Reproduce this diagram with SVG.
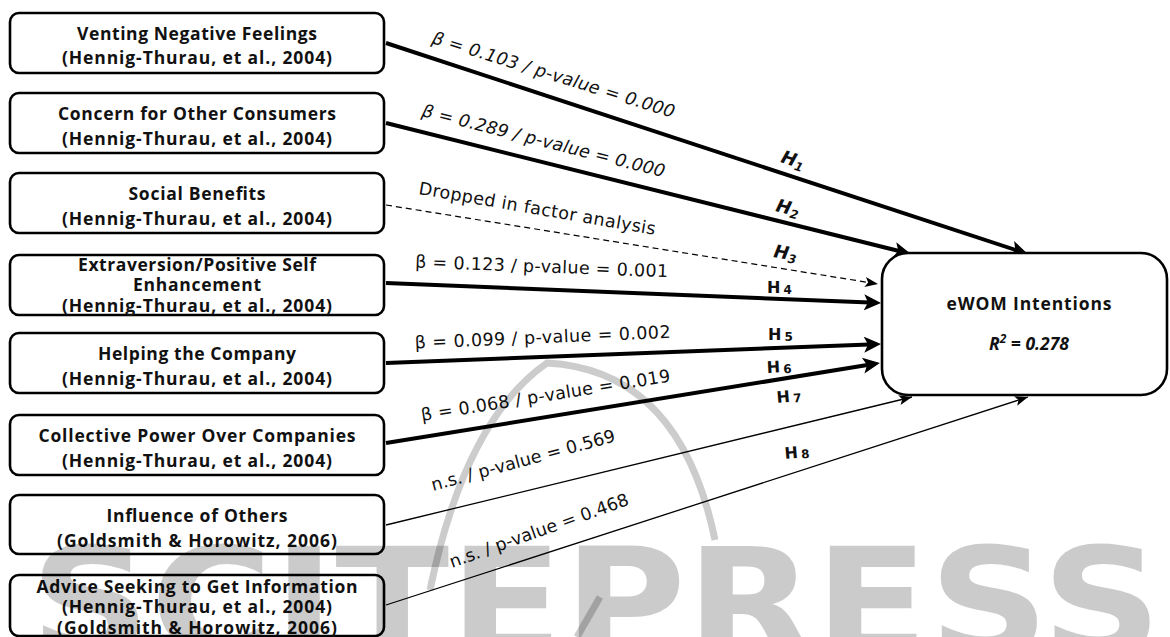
<svg xmlns="http://www.w3.org/2000/svg" width="1170" height="637" viewBox="0 0 1170 637">
<style>
.box{fill:#fff;stroke:#000;stroke-width:2.6}
.bt{font-family:"Open Sans","Liberation Sans",sans-serif;font-weight:bold;font-size:17.5px;fill:#111;text-anchor:middle}
.lbl{font-family:"DejaVu Sans",sans-serif;font-size:17.5px;fill:#111}
.it{font-style:italic}
.thick{stroke:#000;stroke-width:4;fill:none;marker-end:url(#ah)}
.thin{stroke:#000;stroke-width:1.3;fill:none;marker-end:url(#ahs)}
.dash{stroke:#000;stroke-width:1.2;fill:none;stroke-dasharray:6 4;marker-end:url(#ahs)}
.hi{font-family:"DejaVu Sans",sans-serif;font-weight:bold;font-style:italic;font-size:18px;fill:#111}
.hn{font-family:"DejaVu Sans",sans-serif;font-weight:bold;font-size:16px;fill:#111}
.sub{font-size:12px}
.wm{fill:#000;opacity:0.2}
.wml{stroke:#000;opacity:0.2;fill:none;stroke-width:7}
</style>
<defs>
<marker id="ah" markerUnits="userSpaceOnUse" markerWidth="18" markerHeight="17" refX="12" refY="8" orient="auto"><path d="M0,0 L17,8 L0,16 L4,8 z" fill="#000"/></marker>
<marker id="ahs" markerUnits="userSpaceOnUse" markerWidth="14" markerHeight="11" refX="13" refY="5" orient="auto"><path d="M0,0 L13,5 L0,10 L3,5 z" fill="#000"/></marker>
</defs>
<rect width="1170" height="637" fill="#fff"/>

<g id="connectors">
<line class="thick" x1="386" y1="43" x2="1023" y2="252.4"/>
<line class="thick" x1="386" y1="123" x2="906" y2="252.8"/>
<line class="dash" x1="386" y1="205" x2="878" y2="284"/>
<line class="thick" x1="386" y1="283" x2="876" y2="302.8"/>
<line class="thick" x1="386" y1="363" x2="876" y2="344.2"/>
<line class="thick" x1="386" y1="443" x2="875" y2="363.8"/>
<line class="thin" x1="386" y1="525" x2="912" y2="397"/>
<line class="thin" x1="386" y1="605" x2="1028" y2="397"/>
</g>

<g id="edge-labels">
<text class="lbl it" transform="translate(431,43) rotate(17.2)" textLength="253">β = 0.103 / p-value = 0.000</text>
<text class="lbl it" transform="translate(421,116) rotate(14.2)" textLength="250">β = 0.289 / p-value = 0.000</text>
<text class="lbl" transform="translate(418,194) rotate(9.8)" textLength="240">Dropped in factor analysis</text>
<text class="lbl" transform="translate(415,267.5) rotate(2.2)" textLength="253">β = 0.123 / p-value = 0.001</text>
<text class="lbl" transform="translate(415,348.5) rotate(-2.4)" textLength="256">β = 0.099 / p-value = 0.002</text>
<text class="lbl" transform="translate(422,421) rotate(-9)" textLength="252">β = 0.068 / p-value = 0.019</text>
<text class="lbl" transform="translate(433,491) rotate(-15.2)" textLength="190">n.s. / p-value = 0.569</text>
<text class="lbl" transform="translate(452,568) rotate(-19.6)" textLength="189">n.s. / p-value = 0.468</text>

<text class="hi" transform="translate(780,162) rotate(18)">H<tspan class="sub" dy="3">1</tspan></text>
<text class="hi" transform="translate(775,211) rotate(14)">H<tspan class="sub" dy="3">2</tspan></text>
<text class="hi" transform="translate(773,257) rotate(10)">H<tspan class="sub" dy="3">3</tspan></text>
<text class="hn" x="767" y="293">H<tspan class="sub" dx="3" dy="1">4</tspan></text>
<text class="hn" x="768" y="340">H<tspan class="sub" dx="3" dy="1">5</tspan></text>
<text class="hn" transform="translate(767,373) rotate(-3)">H<tspan class="sub" dx="3" dy="1">6</tspan></text>
<text class="hn" transform="translate(777,403) rotate(-5)">H<tspan class="sub" dx="3" dy="1">7</tspan></text>
<text class="hn" transform="translate(785,459) rotate(-5)">H<tspan class="sub" dx="3" dy="1">8</tspan></text>
</g>

<g id="n1"><rect class="box" x="10" y="13" width="374" height="60" rx="9"/>
<text class="bt" x="197" y="40" textLength="240">Venting Negative Feelings</text>
<text class="bt" x="197" y="64" textLength="270">(Hennig-Thurau, et al., 2004)</text></g>
<g id="n2"><rect class="box" x="10" y="93" width="374" height="60" rx="9"/>
<text class="bt" x="197" y="120" textLength="278">Concern for Other Consumers</text>
<text class="bt" x="197" y="145" textLength="270">(Hennig-Thurau, et al., 2004)</text></g>
<g id="n3"><rect class="box" x="10" y="173" width="374" height="60" rx="9"/>
<text class="bt" x="197" y="200" textLength="137">Social Benefits</text>
<text class="bt" x="197" y="225" textLength="270">(Hennig-Thurau, et al., 2004)</text></g>
<g id="n4"><rect class="box" x="10" y="255" width="374" height="60" rx="9"/>
<text class="bt" x="197" y="271" textLength="238">Extraversion/Positive Self</text>
<text class="bt" x="197" y="291" textLength="128">Enhancement</text>
<text class="bt" x="197" y="311.5" textLength="270">(Hennig-Thurau, et al., 2004)</text></g>
<g id="n5"><rect class="box" x="10" y="333" width="374" height="60" rx="9"/>
<text class="bt" x="197" y="360" textLength="198">Helping the Company</text>
<text class="bt" x="197" y="385" textLength="270">(Hennig-Thurau, et al., 2004)</text></g>
<g id="n6"><rect class="box" x="10" y="415" width="374" height="60" rx="9"/>
<text class="bt" x="197" y="442" textLength="317">Collective Power Over Companies</text>
<text class="bt" x="197" y="467" textLength="270">(Hennig-Thurau, et al., 2004)</text></g>
<g id="n7"><rect class="box" x="10" y="495" width="374" height="59" rx="9"/>
<text class="bt" x="197" y="522" textLength="181">Influence of Others</text>
<text class="bt" x="197" y="547" textLength="280">(Goldsmith &amp; Horowitz, 2006)</text></g>
<g id="n8"><rect class="box" x="10" y="575" width="374" height="61" rx="9"/>
<text class="bt" x="197" y="592.5" textLength="321">Advice Seeking to Get Information</text>
<text class="bt" x="197" y="613" textLength="270">(Hennig-Thurau, et al., 2004)</text>
<text class="bt" x="197" y="634" textLength="280">(Goldsmith &amp; Horowitz, 2006)</text></g>

<g id="target"><rect class="box" x="882" y="253" width="285" height="142" rx="26"/>
<text class="bt" x="1029" y="310" textLength="165">eWOM Intentions</text>
<text class="bt" x="1029" y="350" font-style="italic" font-size="19">R<tspan font-size="12" dy="-7">2</tspan><tspan dy="7"> = 0.278</tspan></text></g>

<g id="watermark">
<text class="wm" x="30" y="655" font-family="DejaVu Sans, sans-serif" font-weight="bold" font-size="150" textLength="1132" lengthAdjust="spacingAndGlyphs">SCITEPRESS</text>
<path class="wml" d="M430,590 Q465,420 547,363 Q680,370 715,540"/>
<path class="wml" d="M577,637 L600,597"/>
</g>
</svg>
